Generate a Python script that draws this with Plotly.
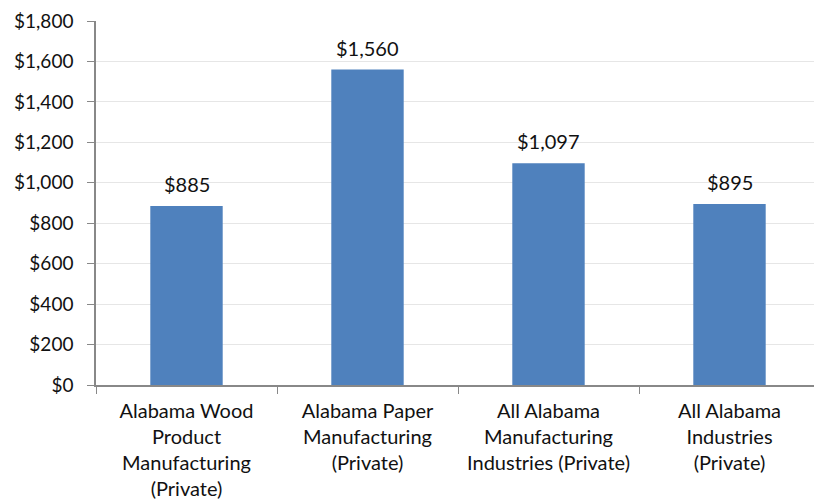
import plotly.graph_objects as go

categories = [
    "Alabama Wood<br>Product<br>Manufacturing<br>(Private)",
    "Alabama Paper<br>Manufacturing<br>(Private)",
    "All Alabama<br>Manufacturing<br>Industries (Private)",
    "All Alabama<br>Industries<br>(Private)",
]
values = [885, 1560, 1097, 895]
tick_vals = [0, 200, 400, 600, 800, 1000, 1200, 1400, 1600, 1800]
tick_text = ["$0", "$200", "$400", "$600", "$800", "$1,000", "$1,200", "$1,400", "$1,600", "$1,800"]

fig = go.Figure(go.Bar(
    x=categories, y=values,
    marker=dict(color="#4F81BD", line=dict(width=0)),
    showlegend=False,
    width=0.4,
))

for c, v in zip(categories, values):
    fig.add_annotation(
        x=c, y=v, text="$" + format(v, ","), showarrow=False,
        yanchor="bottom", yshift=8, font=dict(size=20, color="#111111"),
    )

fig.update_layout(
    width=814, height=496,
    margin=dict(l=88, r=2, t=13, b=119),
    paper_bgcolor="white", plot_bgcolor="white",
    font=dict(family="Lato, Liberation Sans, sans-serif", size=20, color="#111111"),
    showlegend=False,
    bargap=0.6,
)
fig.update_yaxes(
    range=[0, 1800], tickvals=tick_vals, ticktext=tick_text,
    showgrid=True, gridcolor="#E6E6E6", gridwidth=1,
    showline=True, linecolor="#888888", linewidth=1.5,
    ticks="outside", ticklen=7, tickcolor="#888888",
    zeroline=False, ticklabeloverflow="allow", ticklabelstandoff=10,
    automargin=False, tickfont=dict(size=19),
)
fig.update_xaxes(
    showline=True, linecolor="#888888", linewidth=1.5,
    ticks="outside", ticklen=7, tickcolor="#888888",
    tickson="boundaries", ticklabelstandoff=7,
    tickangle=0, automargin=False,
)

fig.write_html("out.html")
